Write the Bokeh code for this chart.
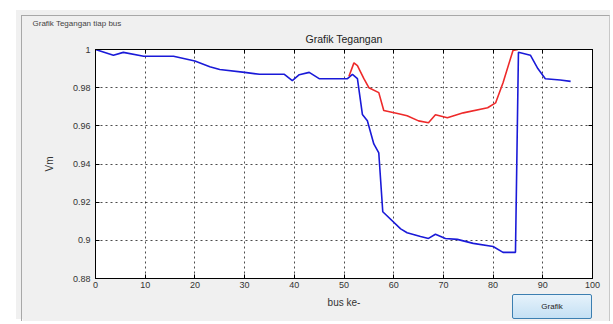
from bokeh.plotting import figure
from bokeh.embed import file_html
from bokeh.resources import INLINE
from bokeh.layouts import column, row
from bokeh.models import (Range1d, FixedTicker, CustomJSTickFormatter, LinearAxis,
                          Title, Button, InlineStyleSheet, Spacer)

# ---- data ----
blue_bus = [0, 3.6, 5.6, 9.7, 15.7, 20, 23, 25, 30, 33, 38, 39.6, 41, 43, 45, 48.6,
            50.7, 51.7, 52.7, 53.7, 54.7, 56, 57, 57.8, 61.4, 62.7, 65.4, 67, 68.4, 70.4,
            72.8, 76, 80, 82, 84.5, 85.1, 87.5, 89, 90.5, 93.5, 95.6]
blue_vm = [1.0, 0.997, 0.9985, 0.9965, 0.9965, 0.994, 0.991, 0.9895, 0.988, 0.987, 0.987,
           0.9837, 0.9868, 0.988, 0.9847, 0.9847,
           0.9847, 0.987, 0.9847, 0.966, 0.9627, 0.9505, 0.9458, 0.915, 0.906, 0.904,
           0.902, 0.901, 0.9032, 0.901, 0.9005, 0.8984, 0.8968, 0.8937, 0.8937,
           0.9986, 0.997, 0.990, 0.9847, 0.984, 0.9833]
red_bus = [51, 52, 52.7, 54, 55, 57, 58, 61, 62.7, 65, 67, 68.4, 70.8, 74, 78.9, 80.5, 82, 84, 85]
red_vm = [0.986, 0.993, 0.9916, 0.9847, 0.980, 0.9774, 0.968, 0.9663, 0.9653, 0.9626,
          0.9616, 0.9658, 0.9642, 0.9668, 0.9695, 0.972, 0.9826, 0.9995, 1.0]
x_ticks = [0, 10, 20, 30, 40, 50, 60, 70, 80, 90, 100]
y_ticks = [0.88, 0.90, 0.92, 0.94, 0.96, 0.98, 1.0]

FONT = "Liberation Sans"
BG = "#f0f0f0"

p = figure(width=589, height=306, output_backend="svg", toolbar_location=None,
           x_range=Range1d(0, 100), y_range=Range1d(0.88, 1.0),
           min_border_left=73, min_border_right=19, min_border_top=33, min_border_bottom=44,
           x_axis_location=None, y_axis_location=None,
           margin=(0, 0, 0, 5),
           styles={"border-left": "1px solid #a8a8a8", "border-top": "1px solid #a8a8a8",
                   "border-right": "1px solid #c8c8c8"})
p.border_fill_color = BG
p.background_fill_color = "white"
p.outline_line_color = "black"
p.outline_line_width = 1

fmt_y = CustomJSTickFormatter(code="return (Math.round(tick*100)/100).toString();")
empty = CustomJSTickFormatter(code="return '';")

def style(ax):
    ax.major_tick_in = 4
    ax.major_tick_out = 0
    ax.minor_tick_in = 0
    ax.minor_tick_out = 0
    ax.axis_line_color = "black"
    ax.major_tick_line_color = "black"
    ax.major_label_text_font = FONT
    ax.major_label_text_font_size = "9px"
    ax.major_label_text_color = "#333333"
    ax.axis_label_text_font = FONT
    ax.axis_label_text_font_size = "10px"
    ax.axis_label_text_font_style = "normal"
    ax.axis_label_text_color = "#333333"

xb = LinearAxis(ticker=FixedTicker(ticks=x_ticks), axis_label="bus ke-")
style(xb)
xb.major_label_standoff = 3
xb.axis_label_standoff = 6
p.add_layout(xb, "below")

yl = LinearAxis(ticker=FixedTicker(ticks=y_ticks), formatter=fmt_y, axis_label="Vm")
style(yl)
yl.major_label_standoff = 5
yl.axis_label_standoff = 15
p.add_layout(yl, "left")

xt = LinearAxis(ticker=FixedTicker(ticks=x_ticks), formatter=empty)
style(xt)
xt.major_label_text_font_size = "0px"
xt.major_label_standoff = 0
p.add_layout(xt, "above")
yr = LinearAxis(ticker=FixedTicker(ticks=y_ticks), formatter=empty)
style(yr)
yr.major_label_text_font_size = "0px"
yr.major_label_standoff = 0
p.add_layout(yr, "right")

p.add_layout(Title(text="Grafik Tegangan", align="center", vertical_align="top", text_font=FONT,
                   text_font_size="10.5px", text_font_style="normal",
                   text_color="#222222", standoff=6), "above")
p.add_layout(Title(text="Grafik Tegangan tiap bus", align="left", vertical_align="top", offset=-63,
                   text_font=FONT, text_font_size="8px", text_font_style="normal",
                   text_color="#444444", standoff=0), "above")

p.xgrid.ticker = FixedTicker(ticks=x_ticks)
p.ygrid.ticker = FixedTicker(ticks=y_ticks)
for g in (p.xgrid, p.ygrid):
    g.grid_line_color = "black"
    g.grid_line_alpha = 0.7
    g.grid_line_dash = "2 3"
    g.grid_line_width = 1

p.line(blue_bus, blue_vm, line_color="#1a1ad8", line_width=1.6)
p.line(red_bus, red_vm, line_color="#ee2a2a", line_width=1.6)

btn_css = InlineStyleSheet(css="""
.bk-btn { background: linear-gradient(#e6f2fb, #c4e0f4) !important;
          border: 1px solid #3c7fb1 !important; border-radius: 2px !important;
          font-family: 'Liberation Sans' !important; font-size: 8px !important;
          color: #222 !important; padding: 0 !important; height: 25px !important; }
""")
btn = Button(label="Grafik", width=80, height=25, margin=(-27, 0, 0, 496),
             stylesheets=[btn_css])

panel = column(Spacer(height=5), p, btn, styles={"background-color": BG})
page = column(Spacer(height=10), row(Spacer(width=16), panel))

open("out.html", "w").write(file_html(page, INLINE))
